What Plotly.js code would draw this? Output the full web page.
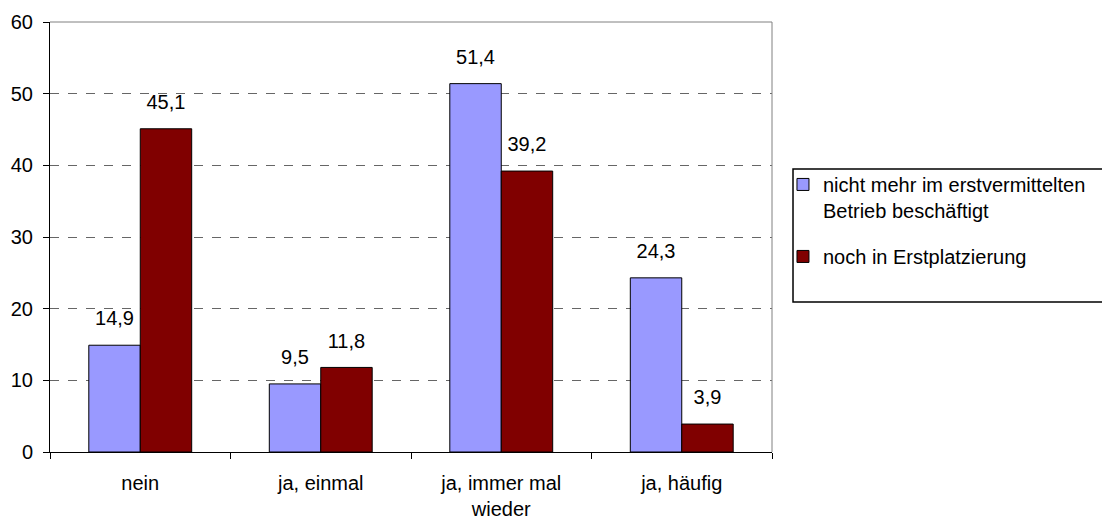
<!DOCTYPE html>
<html>
<head>
<meta charset="utf-8">
<script src="https://cdn.plot.ly/plotly-3.0.1.min.js"></script>
<style>html,body{margin:0;padding:0;background:#fff;}#chart{width:1102px;height:522px;}</style>
</head>
<body>
<div id="chart"></div>
<script>
var categories = ["nein", "ja, einmal", "ja, immer mal<br>wieder", "ja, häufig"];
var seriesNames = ["nicht mehr im erstvermittelten<br>Betrieb beschäftigt", "noch in Erstplatzierung"];
var nichtMehr = [14.9, 9.5, 51.4, 24.3];
var nochIn = [45.1, 11.8, 39.2, 3.9];
var yTicks = [0, 10, 20, 30, 40, 50, 60];

var FONT = "Liberation Sans, Arial, sans-serif";
var colors = ["#9999FF", "#800000"];
var values = [nichtMehr, nochIn];

var traces = [];
values.forEach(function (vals, i) {
  traces.push({
    type: "bar",
    name: seriesNames[i],
    legendgroup: "lg" + i,
    x: categories,
    y: vals,
    offsetgroup: "g" + i,
    marker: { color: colors[i], line: { color: "#000", width: 1 } },
    hoverinfo: "x+y"
  });
});
values.forEach(function (vals, i) {
  traces.push({
    type: "scatter",
    mode: "markers+text",
    x: categories,
    y: vals,
    offsetgroup: "g" + i,
    showlegend: false,
    hoverinfo: "skip",
    marker: { size: 22, color: "rgba(0,0,0,0)" },
    texttemplate: "%{y:.1f}",
    textposition: "top center",
    textfont: { family: FONT, size: 20, color: "#000" },
    cliponaxis: false
  });
});

var layout = {
  width: 1102,
  height: 522,
  margin: { l: 50, r: 330, t: 22, b: 70, autoexpand: false },
  paper_bgcolor: "#fff",
  plot_bgcolor: "#fff",
  separators: ",.",
  font: { family: FONT, size: 20, color: "#000" },
  barmode: "group",
  bargap: 0.43,
  bargroupgap: 0,
  scattermode: "group",
  showlegend: true,
  xaxis: {
    type: "category",
    showline: true,
    linecolor: "#000",
    linewidth: 1,
    ticks: "outside",
    tickson: "boundaries",
    ticklen: 6,
    tickcolor: "#000",
    showgrid: false,
    zeroline: false,
    automargin: false,
    ticklabelstandoff: 13,
    tickfont: { family: FONT, size: 20, color: "#000" },
    fixedrange: true
  },
  yaxis: {
    range: [0, 60],
    tickvals: yTicks,
    showline: true,
    linecolor: "#000",
    linewidth: 1,
    ticks: "outside",
    ticklen: 6,
    tickcolor: "#000",
    showgrid: true,
    gridcolor: "#666",
    griddash: "dash",
    gridwidth: 1,
    zeroline: false,
    automargin: false,
    ticklabelstandoff: 6,
    tickfont: { family: FONT, size: 20, color: "#000" },
    fixedrange: true
  },
  legend: {
    xref: "container",
    yref: "container",
    x: 0.7105,
    y: 0.684,
    xanchor: "left",
    yanchor: "top",
    bgcolor: "rgba(0,0,0,0)",
    borderwidth: 0,
    valign: "top",
    itemwidth: 30,
    font: { family: FONT, size: 20, color: "#000" },
    traceorder: "grouped",
    tracegroupgap: 17
  },
  shapes: [
    { type: "line", xref: "paper", yref: "paper", x0: 0, x1: 1, y0: 1, y1: 1, line: { color: "#808080", width: 1 } },
    { type: "line", xref: "paper", yref: "paper", x0: 1, x1: 1, y0: 0, y1: 1, line: { color: "#808080", width: 1 } },
    { type: "rect", xref: "paper", yref: "paper", x0: 1.0291, x1: 1.47, y0: 0.3488, y1: 0.6581, line: { color: "#000", width: 1.5 }, fillcolor: "rgba(0,0,0,0)" }
  ]
};

Plotly.newPlot("chart", traces, layout, { displayModeBar: false, staticPlot: true });
</script>
</body>
</html>
